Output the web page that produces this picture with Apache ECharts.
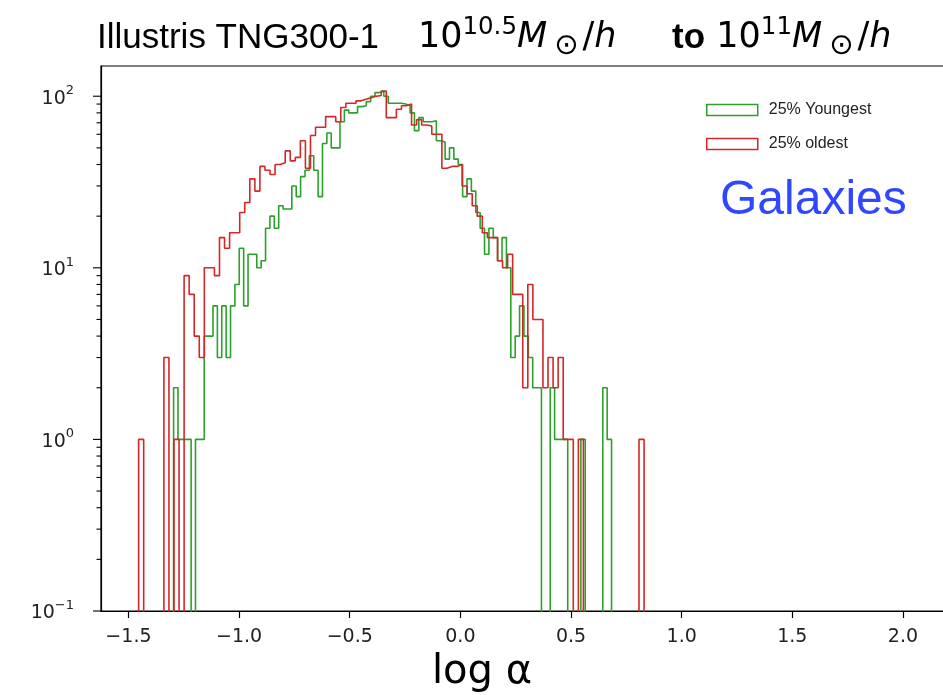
<!DOCTYPE html>
<html>
<head>
<meta charset="utf-8">
<script src="https://cdn.jsdelivr.net/npm/echarts@6/dist/echarts.min.js"></script>
<style>
html,body{margin:0;padding:0;background:#fff;}
#chart{width:943px;height:695px;}
</style>
</head>
<body>
<div id="chart"></div>
<script>
// ---- data ----
// histogram bin ranges (log alpha) : 100 equal bins each
const youngRange = [-1.296, 0.683];
const oldRange = [-1.454, 0.830];
const youngCounts = [
  2,1,1,1,0,1,1,4,4,6, 3,6,3,6,8,13,6,12,12,10,
  11,17,20,17,23,22,22,30,26,34, 37,45,37,26,53,61,50,50,71,83,
  80,80,87,88,93,100,105,107,100,91, 91,91,90,88,80,63,75,71,71,72,
  55,54,43,50,43,40,26,33,28,21, 17,12,17,15,11,15,10,3,4,6,
  4,3,2,2,0,0,2,1,1,1, 0,0,0,1,0,0,0,0,2,1
];
const oldCounts = [
  1,0,0,0,0,3,0,1,0,9, 7,4,3,10,10,9,15,13,16,16,
  21,24,33,28,39,37,35,40,41,48, 42,44,55,38,59,66,66,76,76,71,
  86,91,91,94,96,98,100,101,107,75, 75,84,88,90,68,73,68,67,60,60,
  38,39,39,40,30,27,23,20,16,15, 15,11,10,12,7,7,2,8,5,5,
  2,3,2,3,1,1,0,1,0,0, 0,0,0,0,0,0,0,0,0,1
];
const seriesNames = ['25% Youngest', '25% oldest'];
const xTickValues = [-1.5, -1.0, -0.5, 0.0, 0.5, 1.0, 1.5, 2.0];
const yMajorTicks = [0.1, 1, 10, 100];
const yMinorTicks = [0.2,0.3,0.4,0.5,0.6,0.7,0.8,0.9, 2,3,4,5,6,7,8,9, 20,30,40,50,60,70,80,90];
const xMin = -1.624, xMax = 2.217, yMin = 0.1, yMax = 150;

// ---- build step outlines from the bins ----
const FLOOR = 1e-3; // zero counts fall below the log axis and are clipped
function stepOutline(counts, range) {
  const n = counts.length, w = (range[1] - range[0]) / n;
  const pts = [[range[0], FLOOR]];
  for (let i = 0; i < n; i++) {
    const a = range[0] + i * w, b = range[0] + (i + 1) * w;
    const v = counts[i] > 0 ? counts[i] : FLOOR;
    pts.push([a, v], [b, v]);
  }
  pts.push([range[1], FLOOR]);
  return pts;
}

const GREEN = '#2ca02c', RED = '#d62728';
const tickData = yMajorTicks.map(v => [xMin, v, 1]).concat(yMinorTicks.map(v => [xMin, v, 0]));

function supLabel(v) {
  const e = Math.round(Math.log10(v));
  const s = e < 0 ? '\u2212' + Math.abs(e) : String(e);
  return '{b|10}{s|' + s + '}';
}

const chart = echarts.init(document.getElementById('chart'), null, {renderer: 'canvas'});
chart.setOption({
  animation: false,
  backgroundColor: '#fff',
  title: [{
    text: '{a|Illustris TNG300-1    }{n|10}{s|10.5}{m|M}{o|\u2299}{n|/}{m|h}{a|     }{t|to}{n| 10}{s|11}{m|M}{o|\u2299}{n|/}{m|h}',
    left: 97, top: 15, padding: 0,
    textStyle: {
      fontWeight: 'normal',
      rich: {
        a: {fontFamily: 'Liberation Sans', fontWeight: 'normal', fontSize: 35, color: '#000', lineHeight: 46, verticalAlign: 'middle'},
        t: {fontFamily: 'Liberation Sans', fontWeight: 'bold', fontSize: 35, color: '#000', lineHeight: 46, verticalAlign: 'middle', padding: [0, 0, 0, 2]},
        n: {fontFamily: 'DejaVu Sans', fontWeight: 'normal', fontSize: 35, color: '#000', lineHeight: 46, verticalAlign: 'middle'},
        m: {fontFamily: 'DejaVu Sans', fontWeight: 'normal', fontStyle: 'italic', fontSize: 35, color: '#000', lineHeight: 46, verticalAlign: 'middle', padding: [0, 5, 0, 0]},
        s: {fontFamily: 'DejaVu Sans', fontWeight: 'normal', fontSize: 24.5, color: '#000', lineHeight: 22, verticalAlign: 'top'},
        o: {fontFamily: 'DejaVu Sans', fontWeight: 'normal', fontSize: 29, color: '#000', lineHeight: 26, verticalAlign: 'bottom', padding: [0, 4, 0, 2]}
      }
    }
  }, {
    text: 'Galaxies', left: 720, top: 177, padding: 0,
    textStyle: {fontFamily: 'Liberation Sans', fontSize: 48, fontWeight: 'normal', color: '#3047ff'}
  }],
  legend: {
    orient: 'vertical', left: 706, top: 102, padding: 0, itemWidth: 51, itemHeight: 11, itemGap: 18,
    icon: 'rect',
    textStyle: {fontFamily: 'Liberation Sans', fontSize: 16, color: '#222', padding: [0, 0, 0, 6]},
    data: [
      {name: seriesNames[0], itemStyle: {color: '#fff', borderColor: GREEN, borderWidth: 1.5}},
      {name: seriesNames[1], itemStyle: {color: '#fff', borderColor: RED, borderWidth: 1.5}}
    ]
  },
  grid: {left: 101, top: 66, width: 850, height: 545, outerBoundsMode: 'none', containLabel: false,
    show: true, borderColor: '#000', borderWidth: 1.2, backgroundColor: 'transparent'},
  xAxis: {
    type: 'value', min: xMin, max: xMax,
    axisLine: {onZero: false, lineStyle: {color: '#000', width: 1.2}},
    axisTick: {customValues: xTickValues, length: 7, lineStyle: {color: '#000', width: 1.2}},
    axisLabel: {customValues: xTickValues, margin: 17, fontFamily: 'DejaVu Sans', fontSize: 19, color: '#222',
      formatter: v => (v < 0 ? '\u2212' : '') + Math.abs(v).toFixed(1)},
    splitLine: {show: false},
    name: 'log \u03b1', nameLocation: 'middle', nameGap: 42,
    nameTextStyle: {fontFamily: 'DejaVu Sans', fontSize: 40, color: '#000', padding: [0, 88, 0, 0]}
  },
  yAxis: {
    type: 'log', logBase: 10, min: yMin, max: yMax,
    axisLine: {onZero: false, lineStyle: {color: '#000', width: 1.2}},
    axisTick: {show: false},
    splitLine: {show: false},
    axisLabel: {
      margin: 27, color: '#222',
      formatter: v => {
        const l = Math.log10(v);
        return Math.abs(l - Math.round(l)) < 1e-6 ? supLabel(v) : '';
      },
      rich: {
        b: {fontFamily: 'DejaVu Sans', fontSize: 19, color: '#222', lineHeight: 24, verticalAlign: 'bottom'},
        s: {fontFamily: 'DejaVu Sans', fontSize: 13, color: '#222', lineHeight: 12, verticalAlign: 'top'}
      }
    }
  },
  series: [
    {
      name: seriesNames[0], type: 'line', data: stepOutline(youngCounts, youngRange),
      showSymbol: false, clip: true, color: GREEN,
      lineStyle: {color: GREEN, width: 1.6}, z: 3
    },
    {
      name: seriesNames[1], type: 'line', data: stepOutline(oldCounts, oldRange),
      showSymbol: false, clip: true, color: RED,
      lineStyle: {color: RED, width: 1.6}, z: 4
    },
    {
      type: 'custom', coordinateSystem: 'cartesian2d', data: tickData, clip: false, silent: true, z: 5,
      renderItem: (params, api) => {
        const p = api.coord([api.value(0), api.value(1)]);
        const len = api.value(2) ? 8 : 4.5;
        return {type: 'line', shape: {x1: p[0] - len, y1: p[1], x2: p[0], y2: p[1]},
          style: {stroke: '#000', lineWidth: 1.1}};
      }
    }
  ]
});
</script>
</body>
</html>
